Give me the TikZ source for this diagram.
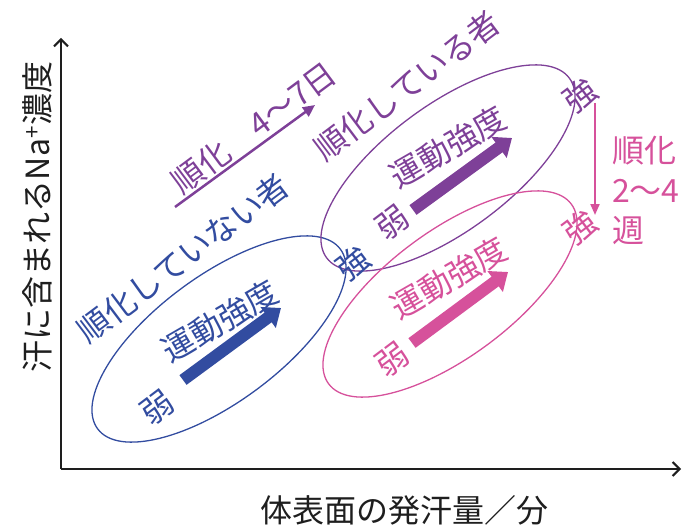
\documentclass[tikz,border=0pt]{standalone}
\usepackage{fontspec}
\newfontfamily\jp{Noto Sans CJK JP}
\usetikzlibrary{arrows.meta}
\definecolor{cblue}{RGB}{50,76,160}
\definecolor{cpurple}{RGB}{126,64,152}
\definecolor{cpink}{RGB}{214,81,155}
\definecolor{cgray}{RGB}{30,30,30}
\tikzset{
  lbl/.style={font=\jp\fontsize{32}{40}\selectfont, inner sep=0pt},
  oval/.style={line width=1.3pt},
  bigarrow/.style={line width=12pt, -{Triangle[width=25pt,length=16pt]}},
  axis/.style={line width=2pt, cgray, -{Straight Barb[length=7pt,width=14pt,line width=2pt]}},
}
\begin{document}
\begin{tikzpicture}[x=1pt,y=1pt]
\useasboundingbox (0,0) rectangle (695,531);
% axes
\coordinate (O) at (61,62);
\coordinate (ytop) at (61,493);
\coordinate (xend) at (681,62);
\draw[axis] (O) -- (ytop);
\draw[axis] (O) -- (xend);
\node[lbl, text=cgray] (xlab) at (404,21) {体表面の発汗量／分};
\node[lbl, text=cgray, rotate=90] (ylab) at (37,314) {汗に含まれるNa\textsuperscript{+}濃度};
% ellipses
\draw[oval, cblue, rotate around={36.5:(219,192)}] (219,192) ellipse [x radius=151, y radius=63];
\draw[oval, cpurple, rotate around={36.5:(448,363)}] (448,363) ellipse [x radius=151, y radius=63];
\draw[oval, cpink, rotate around={36.5:(450,237)}] (450,237) ellipse [x radius=151, y radius=63];
% big arrows
\coordinate (bt) at (183,151); \coordinate (bh) at (281,223);
\coordinate (pt) at (413,321); \coordinate (ph) at (512,393);
\coordinate (kt) at (412,188); \coordinate (kh) at (508,259);
\draw[bigarrow, cblue] (bt) -- (bh);
\draw[bigarrow, cpurple] (pt) -- (ph);
\draw[bigarrow, cpink] (kt) -- (kh);
% acclimatization arrows
\coordinate (a1) at (175,324); \coordinate (a2) at (315,426);
\draw[line width=2.5pt, cpurple, -{Triangle[width=11pt,length=12pt]}] (a1) -- (a2);
\coordinate (v1) at (595,428); \coordinate (v2) at (595,316);
\draw[line width=2pt, cpink, -{Triangle[width=9pt,length=11pt]}] (v1) -- (v2);
% texts
\node[lbl, text=cpurple, rotate=36.7] (t47) at (254,403) {順化　4〜7日};
\node[lbl, text=cblue, rotate=37] (tnot) at (183,273) {順化していない者};
\node[lbl, text=cpurple, rotate=37] (tyes) at (407,445) {順化している者};
\node[lbl, text=cblue, rotate=30] (ib) at (220,210) {運動強度};
\node[lbl, text=cpurple, rotate=30] (ip) at (448,384) {運動強度};
\node[lbl, text=cpink, rotate=30] (ik) at (449,253) {運動強度};
\node[lbl, text=cblue, rotate=37] (wb) at (157,123) {弱};
\node[lbl, text=cpurple, rotate=37] (wp) at (392,308) {弱};
\node[lbl, text=cpink, rotate=37] (wk) at (392,171) {弱};
\node[lbl, text=cblue, rotate=37] (sb) at (353,268) {強};
\node[lbl, text=cpurple, rotate=37] (sp) at (580,436) {強};
\node[lbl, text=cpink, rotate=37] (sk) at (580,304) {強};
\node[lbl, text=cpink, align=left, anchor=west] (t24) at (612,341) {順化\\2〜4\\週};
\end{tikzpicture}
\end{document}
